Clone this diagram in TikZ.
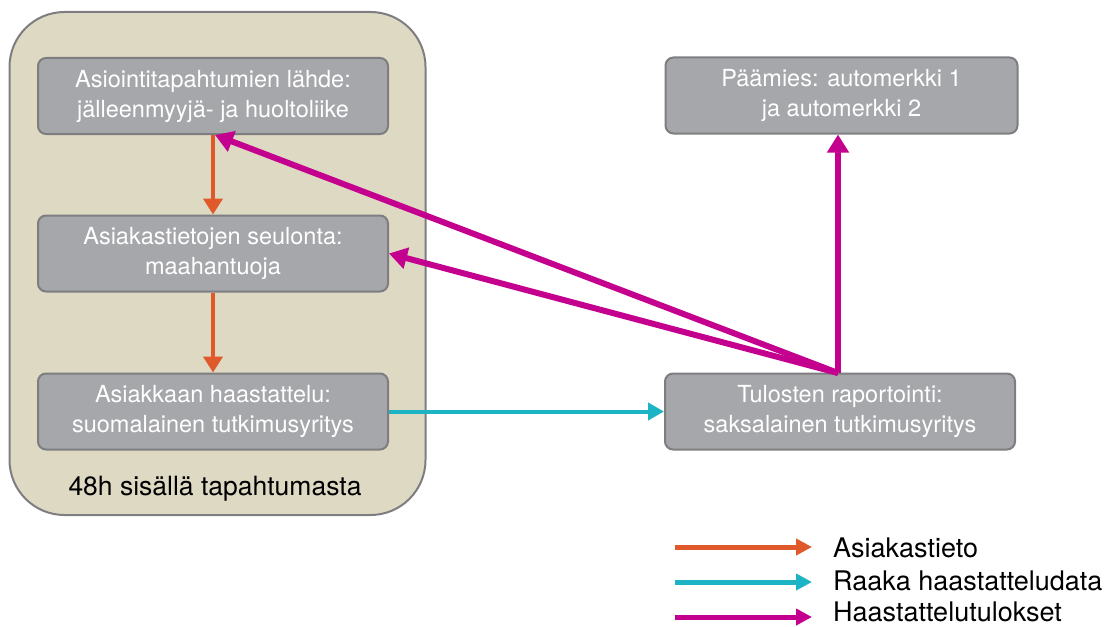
\documentclass[tikz,border=0pt]{standalone}
\usepackage{fontspec}
\setmainfont{TeX Gyre Heros}
\usetikzlibrary{arrows.meta}
\definecolor{beige}{HTML}{DDD9C3}
\definecolor{boxfill}{HTML}{A6A7AA}
\definecolor{boxline}{HTML}{7E7E80}
\definecolor{orangec}{HTML}{E0592A}
\definecolor{cyanc}{HTML}{1CB4C4}
\definecolor{magc}{HTML}{C4008E}
\tikzset{
  procbox/.style={draw=boxline, line width=2pt, fill=boxfill, rounded corners=8pt,
    minimum width=350pt, minimum height=76pt, text=white, align=center,
    font=\fontsize{23.5}{30}\selectfont, inner sep=0pt},
  orarrow/.style={draw=orangec, line width=4pt, -{Triangle[length=16pt,width=19pt]}},
  cyarrow/.style={draw=cyanc, line width=4pt, -{Triangle[length=16pt,width=17pt]}},
  magarrow/.style={draw=magc, line width=6pt, -{Triangle[length=18pt,width=21pt]}},
  legarrow/.style={line width=5pt, -{Triangle[length=16pt,width=16pt]}},
  legtext/.style={anchor=west, font=\fontsize{27}{30}\selectfont, text=black, inner sep=0pt}
}
\begin{document}
\begin{tikzpicture}[x=1pt,y=-1pt]
\useasboundingbox (0,0) rectangle (1115,626);
% container
\node[draw=boxline, line width=2pt, fill=beige, rounded corners=55pt, minimum width=416pt, minimum height=503pt, inner sep=0pt] (cont) at (217.5,263.5) {};
\node (b1) [procbox] at (213,96) {Asiointitapahtumien lähde:\\jälleenmyyjä- ja huoltoliike};
\node (b2) [procbox] at (213,253.5) {Asiakastietojen seulonta:\\maahantuoja};
\node (b3) [procbox] at (213,411.5) {Asiakkaan haastattelu:\\suomalainen tutkimusyritys};
\node (lbl) [font=\fontsize{26.5}{30}\selectfont, inner sep=0pt] at (215,489) {48h sisällä tapahtumasta};
\node (p) [procbox, minimum width=352pt] at (841.5,95.5) {Päämies: automerkki 1\\ja automerkki 2};
\node (t) [procbox, minimum width=350pt] at (840,411.5) {Tulosten raportointi:\\saksalainen tutkimusyritys};
\coordinate (src) at (838,373);
\coordinate (b1tip) at (215,135);
% arrows
\draw[orarrow] (b1.south) -- (b2.north);
\draw[orarrow] (b2.south) -- (b3.north);
\draw[cyarrow] (b3.east) -- (t.west);
\draw[magarrow] (src) -- (b1tip);
\draw[magarrow] (src) -- (b2.east);
\draw[magarrow] (src) -- (src |- p.south);
% legend
\coordinate (l1a) at (675,547); \coordinate (l1b) at (812,547);
\coordinate (l2a) at (675,582); \coordinate (l2b) at (812,582);
\coordinate (l3a) at (675,617); \coordinate (l3b) at (812,617);
\draw[legarrow, draw=orangec] (l1a) -- (l1b);
\draw[legarrow, draw=cyanc] (l2a) -- (l2b);
\draw[legarrow, draw=magc] (l3a) -- (l3b);
\node (t1) [legtext] at (833,548) {Asiakastieto};
\node (t2) [legtext] at (833,581) {Raaka haastatteludata};
\node (t3) [legtext] at (833,612) {Haastattelutulokset};
\end{tikzpicture}
\end{document}
